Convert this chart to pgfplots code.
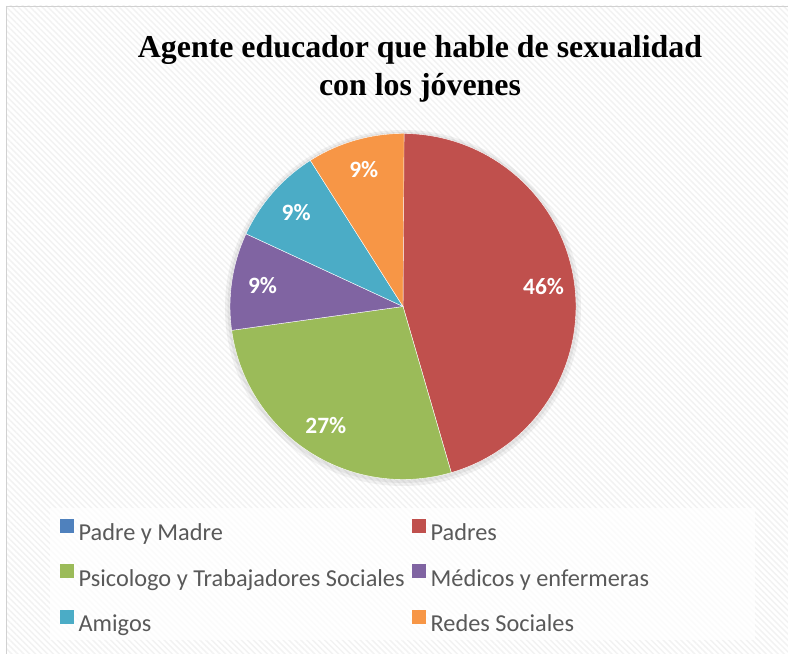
\documentclass[border=0pt]{standalone}
\usepackage{pgfplots}
\pgfplotsset{compat=1.18}
\usepackage{pgfplotstable}
\usepackage{fontspec}
\setmainfont{Liberation Serif}
\newfontfamily\carlito{Carlito}
\usetikzlibrary{patterns.meta}
\definecolor{cBlue}{HTML}{4F81BD}
\definecolor{cRed}{HTML}{C0504D}
\definecolor{cGreen}{HTML}{9BBB59}
\definecolor{cPurple}{HTML}{8064A2}
\definecolor{cTeal}{HTML}{4BACC6}
\definecolor{cOrange}{HTML}{F79646}
\definecolor{legendgray}{HTML}{595959}

\pgfplotstableread{
name value pct col
PadreyMadre 0 0 cBlue
Padres 45.5 46 cRed
Psicologo 27.3 27 cGreen
Medicos 9.1 9 cPurple
Amigos 9.1 9 cTeal
Redes 9.1 9 cOrange
}\piedata

\newcommand\pctfont{\carlito\bfseries\fontsize{23.5}{28}\selectfont}

\begin{document}
\begin{tikzpicture}[x=1bp,y=1bp]
\useasboundingbox (0,0) rectangle (788,654);
\fill[white] (0,0) rectangle (788,654);
\fill[pattern={Lines[angle=-45,distance=4.2bp,line width=1.4bp]}, pattern color=black!5] (6,0) rectangle (788,648);
\draw[black!18, line width=1.2bp] (6.5,-5) rectangle (800,647.5);
\fill[white, opacity=0.75] (50,14) rectangle (755,146);
\fill[black, opacity=0.05] (403,346) circle (178);
\fill[black, opacity=0.05] (403,346.5) circle (175.5);
\node[font=\fontsize{32}{38}\selectfont\bfseries, anchor=base] at (420,596) {Agente educador que hable de sexualidad};
\node[font=\fontsize{32}{38}\selectfont\bfseries, anchor=base] at (420,558) {con los jóvenes};
\begin{axis}[at={(0,0)}, anchor=south west, width=788bp, height=654bp, scale only axis,
  xmin=0, xmax=788, ymin=0, ymax=654, hide axis, clip=false,
  legend columns=2,
  legend cell align=left,
  legend style={at={(0.0761,0.2064)}, anchor=north west, draw=none, fill=none, inner sep=0pt,
    font=\carlito\fontsize{24.4}{29}\selectfont, text=legendgray,
    nodes={inner xsep=4.5bp, inner ysep=0bp},
    /tikz/every even column/.style={column sep=3bp}, row sep=22bp},
  legend image code/.code={\fill[#1, draw=none] (0bp,0bp) rectangle (14bp,14bp);}
]
\xdef\cum{0}
\pgfplotsinvokeforeach{1,...,5}{
  \pgfplotstablegetelem{#1}{value}\of\piedata \let\v\pgfplotsretval
  \pgfplotstablegetelem{#1}{col}\of\piedata \let\c\pgfplotsretval
  \pgfplotstablegetelem{#1}{pct}\of\piedata \let\p\pgfplotsretval
  \pgfmathsetmacro\aS{90-3.6*\cum}
  \pgfmathsetmacro\aE{90-3.6*(\cum+\v)}
  \pgfmathsetmacro\aM{(\aS+\aE)/2}
  \pgfmathsetmacro\lx{403+142*cos(\aM)}
  \pgfmathsetmacro\ly{347.5+142*sin(\aM)}
  \edef\doit{\noexpand\addplot[forget plot, fill=\c, draw=white, line width=0.4bp, domain=\aE:\aS, samples=90, variable=\noexpand\t]
     ({403+173*cos(\noexpand\t)},{347.5+173*sin(\noexpand\t)}) -- (axis cs:403,347.5) -- cycle;
     \noexpand\node[font=\noexpand\pctfont, text=white] at (axis cs:\lx,\ly) {\p\noexpand\%};}
  \doit
  \pgfmathsetmacro\newcum{\cum+\v}
  \xdef\cum{\newcum}
}
\addlegendimage{fill=cBlue}\addlegendentry{Padre y Madre}
\addlegendimage{fill=cRed}\addlegendentry{Padres}
\addlegendimage{fill=cGreen}\addlegendentry{Psicologo y Trabajadores Sociales}
\addlegendimage{fill=cPurple}\addlegendentry{Médicos y enfermeras}
\addlegendimage{fill=cTeal}\addlegendentry{Amigos}
\addlegendimage{fill=cOrange}\addlegendentry{Redes Sociales}
\end{axis}
\end{tikzpicture}
\end{document}
